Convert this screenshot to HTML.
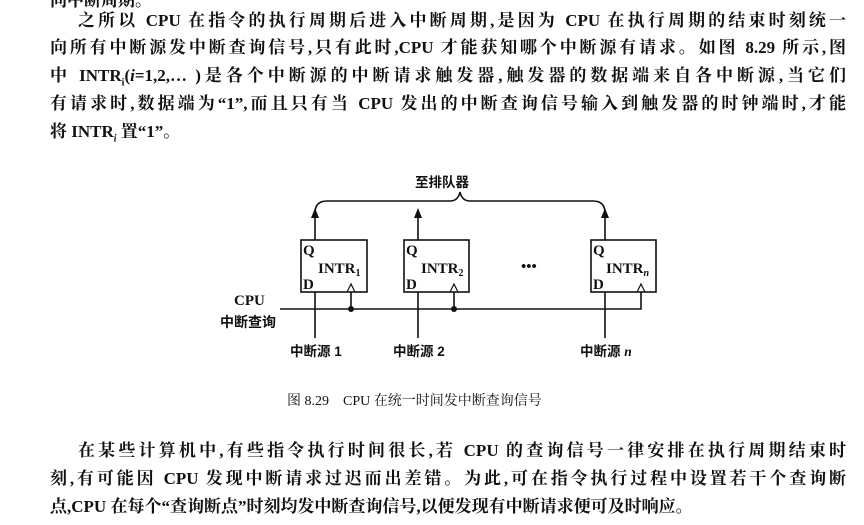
<!DOCTYPE html>
<html><head><meta charset="utf-8"><style>
body{margin:0;width:864px;height:525px;background:#fff;overflow:hidden;position:relative;font-family:"Liberation Serif","Noto Serif CJK SC",serif;color:#111}
.l{position:absolute;font-size:17px;line-height:20px;font-weight:bold;white-space:nowrap;text-align:justify;text-align-last:justify}
svg{position:absolute;left:0;top:0}
</style></head><body>
<div class="l" style="left:50px;top:-9px;width:120px;text-align-last:left">向中断周期。</div>
<div class="l" style="left:78px;top:11px;width:768px">之所以 CPU 在指令的执行周期后进入中断周期,是因为 CPU 在执行周期的结束时刻统一</div>
<div class="l" style="left:50px;top:38px;width:796px">向所有中断源发中断查询信号,只有此时,CPU 才能获知哪个中断源有请求。如图 8.29 所示,图</div>
<div class="l" style="left:50px;top:66px;width:796px">中 INTR<sub style="font-size:10px">i</sub>(<i>i</i>=1,2,… )是各个中断源的中断请求触发器,触发器的数据端来自各中断源,当它们</div>
<div class="l" style="left:50px;top:94px;width:796px">有请求时,数据端为“1”,而且只有当 CPU 发出的中断查询信号输入到触发器的时钟端时,才能</div>
<div class="l" style="left:50px;top:122px;text-align-last:left">将 INTR<sub style="font-size:10px"><i>i</i></sub> 置“1”。</div>

<svg width="864" height="525" viewBox="0 0 864 525">
<g fill="none" stroke="#111" stroke-width="1.6">
<rect x="301" y="240" width="66" height="52"/>
<rect x="404" y="240" width="65" height="52"/>
<rect x="591" y="240" width="65" height="52"/>
<path d="M315 240V215M418 240V215M605 240V215"/>
<path d="M315 213Q315 201 327 201H450Q458 201 460 192Q462 201 470 201H593Q605 201 605 213"/>
<path d="M280 309H641V292M351 309V292M454 309V292"/>
<path d="M315 292V338M418 292V338M605 292V338"/>
<path d="M347 292L351 284L355 292M450 292L454 284L458 292M637 292L641 284L645 292" stroke-width="1.2"/>
</g>
<g fill="#111">
<path d="M311 218L315 208L319 218ZM414 218L418 208L422 218ZM601 218L605 208L609 218Z"/>
<circle cx="351" cy="309" r="3"/><circle cx="454" cy="309" r="3"/>
</g>
<g font-family="Liberation Serif,Noto Serif CJK SC,serif" font-weight="bold" font-size="15" fill="#111">
<text x="303" y="255">Q</text><text x="303" y="289">D</text><text x="318" y="273">INTR<tspan font-size="10" dy="3">1</tspan></text>
<text x="406" y="255">Q</text><text x="406" y="289">D</text><text x="421" y="273">INTR<tspan font-size="10" dy="3">2</tspan></text>
<text x="593" y="255">Q</text><text x="593" y="289">D</text><text x="606" y="273">INTR<tspan font-size="10" dy="3" font-style="italic">n</tspan></text>
<text x="521" y="271">•••</text>
<text x="234" y="305">CPU</text>
<text x="220" y="327" font-family="Liberation Sans,Noto Sans CJK SC,sans-serif" font-size="14">中断查询</text>
<text x="415" y="187" font-family="Liberation Sans,Noto Sans CJK SC,sans-serif" font-size="13.5">至排队器</text>
<text x="290" y="356" font-family="Liberation Sans,Noto Sans CJK SC,sans-serif" font-size="13.5">中断源 1</text>
<text x="393" y="356" font-family="Liberation Sans,Noto Sans CJK SC,sans-serif" font-size="13.5">中断源 2</text>
<text x="580" y="356" font-family="Liberation Sans,Noto Sans CJK SC,sans-serif" font-size="13.5">中断源 <tspan font-style="italic" font-family="Liberation Serif">n</tspan></text>
<text x="287" y="405" font-weight="normal" font-size="14">图 8.29　CPU 在统一时间发中断查询信号</text>
</g>
</svg>

<div class="l" style="left:78px;top:441px;width:768px">在某些计算机中,有些指令执行时间很长,若 CPU 的查询信号一律安排在执行周期结束时</div>
<div class="l" style="left:50px;top:469px;width:796px">刻,有可能因 CPU 发现中断请求过迟而出差错。为此,可在指令执行过程中设置若干个查询断</div>
<div class="l" style="left:50px;top:497px;text-align-last:left">点,CPU 在每个“查询断点”时刻均发中断查询信号,以便发现有中断请求便可及时响应。</div>
</body></html>
